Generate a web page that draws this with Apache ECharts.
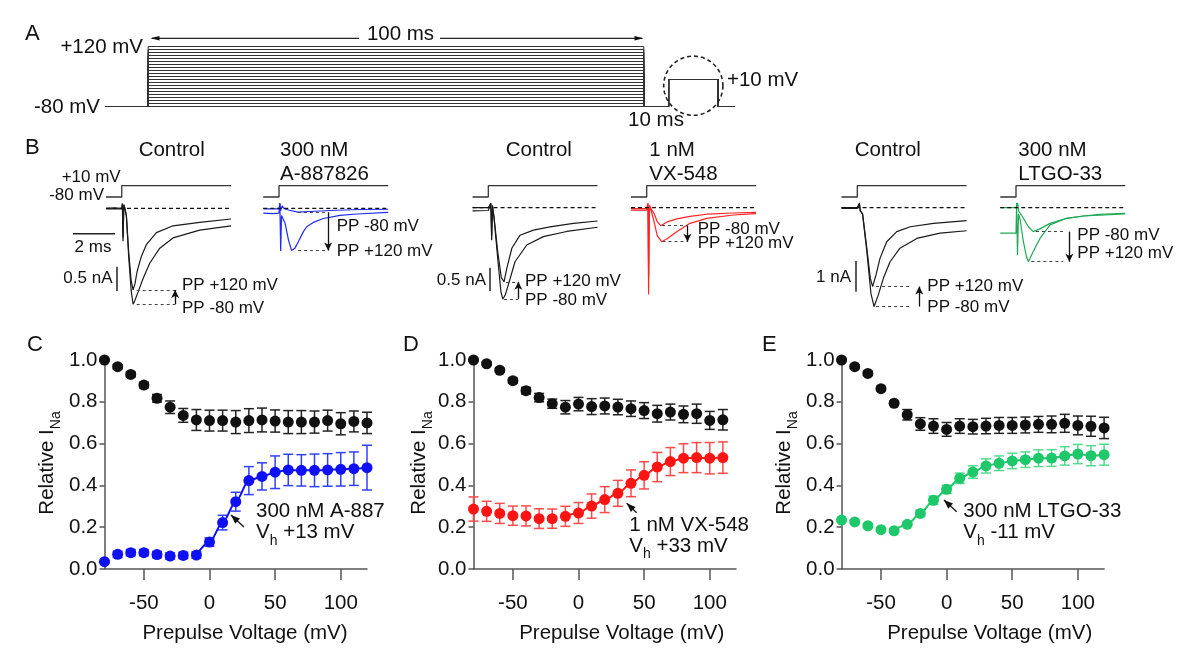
<!DOCTYPE html>
<html><head><meta charset="utf-8">
<script src="https://cdn.jsdelivr.net/npm/echarts@6/dist/echarts.min.js"></script>
<style>html,body{margin:0;padding:0;background:#fff}#c{width:1200px;height:668px}</style>
</head><body><div id="c"></div>
<script>
// ---------------- DATA ----------------
// Panel A: protocol
const prepulseV = [-80,-70,-60,-50,-40,-30,-20,-10,0,10,20,30,40,50,60,70,80,90,100,110,120];
const holdV = -80, testV = 10;
const protoT = [-8.7, 0, 100, 105, 115, 118.4]; // ms: hold, prepulse on, prepulse off, test on, test off, end

// Panel B: current traces [t (ms), I (nA)]
const b1a = [[-0.75,0],[-0.4,0.01],[0,0],[0.03,0.1],[0.06,-0.68],[0.1,0.08],[0.15,0],[0.22,-0.15],[0.33,-0.9],[0.45,-1.5],[0.54,-1.68],[0.63,-1.55],[0.73,-1.3],[0.94,-0.98],[1.18,-0.74],[1.65,-0.5],[2.44,-0.36],[3.71,-0.29],[5.2,-0.22]];
const b1b = [[-0.75,-0.01],[0,-0.01],[0.03,0.09],[0.06,-0.6],[0.1,0.06],[0.15,0],[0.22,-0.15],[0.33,-1.0],[0.45,-1.7],[0.54,-1.975],[0.62,-1.9],[0.78,-1.72],[1.02,-1.44],[1.33,-1.13],[1.81,-0.82],[2.44,-0.61],[3.71,-0.45],[5.2,-0.36]];
const b2a = [[-0.75,-0.01],[0,-0.01],[0.04,0.1],[0.08,-0.05],[0.15,0.05],[0.25,-0.01],[0.5,-0.04],[0.9,-0.08],[1.48,-0.066],[2.43,-0.045],[3.86,-0.025],[5.2,-0.02]];
const b2b = [[-0.75,-0.1],[-0.3,-0.11],[0,-0.1],[0.04,0.11],[0.08,-0.88],[0.12,-0.15],[0.29,-0.31],[0.45,-0.65],[0.6,-0.87],[0.76,-0.82],[0.92,-0.69],[1.16,-0.48],[1.32,-0.38],[1.63,-0.29],[2.11,-0.21],[2.9,-0.144],[3.7,-0.117],[5.2,-0.082]];
const b3a = [[-0.75,0],[0,0],[0.12,0.1],[0.16,-0.7],[0.2,0.05],[0.27,-0.2],[0.45,-0.95],[0.62,-1.5],[0.75,-1.59],[0.88,-1.3],[1.12,-0.87],[1.51,-0.59],[2.15,-0.48],[2.94,-0.41],[4.05,-0.335],[5.2,-0.285]];
const b3b = [[-0.75,-0.07],[0,-0.06],[0.12,0.08],[0.16,-0.6],[0.2,0],[0.27,-0.2],[0.45,-1.1],[0.6,-1.8],[0.69,-1.96],[0.8,-1.88],[0.95,-1.66],[1.27,-1.16],[1.83,-0.8],[2.62,-0.62],[3.73,-0.51],[5.2,-0.42]];
const b4a = [[-0.75,-0.02],[0,-0.02],[0.06,0.1],[0.09,-1.86],[0.13,0.05],[0.2,-0.02],[0.35,-0.12],[0.5,-0.3],[0.67,-0.386],[0.95,-0.31],[1.43,-0.24],[2.06,-0.185],[2.86,-0.14],[4.13,-0.114],[5.2,-0.099]];
const b4b = [[-0.75,-0.05],[0,-0.05],[0.06,0.08],[0.09,-1.5],[0.13,0],[0.2,-0.05],[0.35,-0.3],[0.5,-0.6],[0.71,-0.73],[0.95,-0.67],[1.43,-0.515],[2.06,-0.335],[2.86,-0.23],[4.13,-0.157],[5.2,-0.129]];
const b5a = [[-0.75,0],[0,0],[0.1,0.15],[0.14,-0.1],[0.25,-0.2],[0.45,-1.3],[0.62,-2.3],[0.73,-2.57],[0.89,-2.19],[1.08,-1.65],[1.4,-1.11],[1.88,-0.78],[2.52,-0.62],[3.63,-0.51],[5.2,-0.42]];
const b5b = [[-0.75,-0.02],[0,-0.02],[0.1,0.12],[0.14,-0.1],[0.25,-0.2],[0.45,-1.4],[0.65,-2.8],[0.8,-3.22],[1.0,-2.84],[1.24,-2.3],[1.56,-1.76],[2.03,-1.32],[2.83,-1.0],[3.94,-0.83],[5.2,-0.75]];
const b6a = [[-0.75,0],[0,0],[0.08,0.15],[0.12,-0.1],[0.2,-0.05],[0.35,-0.345],[0.59,-0.62],[0.82,-0.78],[1.14,-0.69],[1.62,-0.51],[2.41,-0.345],[3.21,-0.27],[4.0,-0.215],[5.2,-0.18]];
const b6b = [[-0.75,-0.83],[0,-0.83],[0.03,0.15],[0.07,-1.54],[0.12,-0.2],[0.2,-0.4],[0.35,-1.1],[0.5,-1.6],[0.59,-1.76],[0.67,-1.65],[0.82,-1.43],[1.14,-1.0],[1.62,-0.56],[2.41,-0.345],[3.21,-0.27],[5.2,-0.2]];
const bCommand = [[-0.75,-80],[0,-80],[0,10],[5.2,10]];
// peaks: [PP -80, PP +120] (nA) and their times (ms)
const bPeakI = [[-1.975,-1.68],[-0.08,-0.87],[-1.96,-1.59],[-0.386,-0.73],[-3.22,-2.57],[-0.78,-1.76]];
const bPeakT = [[0.71,0.71],[0.9,0.9],[0.74,0.84],[0.73,0.75],[0.89,0.89],[0.95,0.73]];
const bMarkEnd = [2.54,2.29,1.43,1.94,2.48,2.25];
const bArrowT = [2.54,2.34,1.43,1.94,2.95,2.54];

// Panels C-E
const voltsCE = [-80,-70,-60,-50,-40,-30,-20,-10,0,10,20,30,40,50,60,70,80,90,100,110,120];
const voltsD  = [-80,-70,-60,-50,-40,-30,-20,-10,0,10,20,30,40,50,60,70,80,90,100,110];
const xTicks = [-50,0,50,100];
const ctrlC    = [1.0,0.968,0.931,0.880,0.817,0.774,0.735,0.713,0.710,0.710,0.703,0.710,0.713,0.708,0.703,0.703,0.703,0.710,0.695,0.706,0.699];
const ctrlCErr = [0.005,0.01,0.012,0.013,0.018,0.03,0.033,0.05,0.05,0.05,0.055,0.057,0.057,0.053,0.055,0.055,0.053,0.05,0.053,0.05,0.051];
const a887     = [0.035,0.070,0.078,0.078,0.069,0.062,0.065,0.067,0.129,0.222,0.322,0.423,0.443,0.463,0.474,0.472,0.472,0.474,0.477,0.480,0.485];
const a887Err  = [0.005,0.015,0.015,0.015,0.015,0.015,0.015,0.015,0.02,0.035,0.045,0.067,0.065,0.078,0.075,0.075,0.078,0.078,0.08,0.08,0.107];
const ctrlD    = [1.0,0.982,0.951,0.901,0.853,0.820,0.791,0.774,0.789,0.777,0.780,0.775,0.767,0.758,0.743,0.751,0.740,0.743,0.711,0.714];
const ctrlDErr = [0.005,0.007,0.01,0.012,0.016,0.02,0.022,0.032,0.032,0.038,0.038,0.037,0.037,0.038,0.04,0.038,0.04,0.046,0.043,0.049];
const vx548    = [0.287,0.276,0.266,0.255,0.254,0.241,0.241,0.252,0.268,0.301,0.332,0.362,0.410,0.448,0.488,0.514,0.530,0.533,0.530,0.533];
const vx548Err = [0.058,0.048,0.048,0.046,0.048,0.047,0.046,0.048,0.05,0.058,0.062,0.062,0.064,0.065,0.07,0.067,0.069,0.072,0.075,0.075];
const ctrlE    = [1.0,0.968,0.936,0.863,0.793,0.738,0.694,0.684,0.668,0.684,0.681,0.684,0.687,0.687,0.689,0.692,0.692,0.697,0.687,0.683,0.675];
const ctrlEErr = [0.005,0.008,0.01,0.01,0.01,0.025,0.03,0.035,0.033,0.035,0.035,0.037,0.038,0.038,0.038,0.038,0.04,0.043,0.045,0.048,0.051];
const ltgo     = [0.234,0.225,0.207,0.188,0.183,0.214,0.266,0.329,0.381,0.434,0.464,0.493,0.506,0.517,0.523,0.530,0.531,0.541,0.550,0.542,0.547];
const ltgoErr  = [0.008,0.008,0.008,0.008,0.008,0.01,0.015,0.02,0.02,0.025,0.03,0.034,0.035,0.037,0.037,0.04,0.04,0.044,0.046,0.048,0.05];
const fitStart = [-10, -10, -40]; // first prepulse voltage of fitted curve (C, D, E)

// ---------------- LAYOUT / STYLE ----------------
const FONT = '"Liberation Sans", Arial, Helvetica, sans-serif';
const chart = echarts.init(document.getElementById('c'), null, {renderer: 'canvas'});
const grids = [], xAxes = [], yAxes = [], series = [], graphic = [];
const hidden = {show:false};
function addGrid(g, xa, ya) {
  grids.push(Object.assign({containLabel:false}, g));
  const i = grids.length - 1;
  xAxes.push(Object.assign({gridIndex:i, type:'value', splitLine:hidden}, xa));
  yAxes.push(Object.assign({gridIndex:i, type:'value', splitLine:hidden}, ya));
  return i;
}
function hiddenAxis(min, max) { return {min, max, show:false}; }

// Panel A grid
const gA = addGrid({left:105, top:46.5, width:630, height:60}, hiddenAxis(protoT[0], protoT[5]), hiddenAxis(-80, 120));
prepulseV.forEach(v => {
  series.push({type:'line', xAxisIndex:gA, yAxisIndex:gA, symbol:'none', silent:true, clip:false,
    lineStyle:{color:'#333', width:1},
    data:[[protoT[0],holdV],[protoT[1],holdV],[protoT[1],v],[protoT[2],v],[protoT[2],holdV],[protoT[3],holdV],
          [protoT[3],testV],[protoT[4],testV],[protoT[4],holdV],[protoT[5],holdV]]});
});

// Panel B grids
const bLeft = [106, 263.25, 472.55, 630.95, 841.55, 1000.25];
const bScale = [48.6, 48.6, 46.6, 46.6, 30.7, 30.7];   // px per nA
const bBase  = [208.3, 208.3, 207.7, 207.7, 207.7, 207.7];
const bTop = 180, bH = 130;
const bTraces = [[b1b,b1a],[b2a,b2b],[b3b,b3a],[b4a,b4b],[b5b,b5a],[b6a,b6b]];
const bColor = ['#1a1a1a','#1f2bf2','#1a1a1a','#ff2424','#1a1a1a','#1faa55'];
for (let p = 0; p < 6; p++) {
  const ymax = (bBase[p]-bTop)/bScale[p], ymin = -(bTop+bH-bBase[p])/bScale[p];
  const g = addGrid({left:bLeft[p], top:bTop, width:125, height:bH}, hiddenAxis(-0.75, 5.2), hiddenAxis(ymin, ymax));
  bTraces[p].forEach(tr => series.push({type:'line', xAxisIndex:g, yAxisIndex:g, symbol:'none', silent:true,
    lineStyle:{color:bColor[p], width:1.2}, data:tr}));
  const pk = bPeakI[p], pt = bPeakT[p];
  series.push({type:'line', xAxisIndex:g, yAxisIndex:g, symbol:'none', silent:true,
    lineStyle:{color:'#111', width:1.2, type:[4,3]}, data:[[-0.75,0],[5.2,0]],
    markLine:{silent:true, symbol:['none','none'], label:{show:false}, animation:false,
      lineStyle:{color:'#444', width:1, type:[3,3]},
      data:[[{coord:[pt[0],pk[0]]},{coord:[bMarkEnd[p],pk[0]]}],[{coord:[pt[1],pk[1]]},{coord:[bMarkEnd[p],pk[1]]}]]}});
  series.push({type:'line', xAxisIndex:g, yAxisIndex:g, symbol:'none', silent:true, data:[],
    markLine:{silent:true, symbol:['none','arrow'], symbolSize:[6,8], label:{show:false}, animation:false,
      lineStyle:{color:'#111', width:1.3, type:'solid'},
      data:[[{coord:[bArrowT[p],pk[0]]},{coord:[bArrowT[p],pk[1]]}]]}});
}
for (let p = 0; p < 6; p++) {
  const g = addGrid({left:bLeft[p], top:185.7, width:125, height:11.3}, hiddenAxis(-0.75, 5.2), hiddenAxis(-80, 10));
  series.push({type:'line', xAxisIndex:g, yAxisIndex:g, symbol:'none', silent:true, clip:false,
    lineStyle:{color:'#333', width:1.3}, data:bCommand});
}

// Panels C, D, E
const dot = [
  {left:104.5, x:voltsCE, ctrl:ctrlC, ctrlE:ctrlCErr, drug:a887,  drugE:a887Err,  col:'#1010f5', ecol:'#3040ff'},
  {left:473.5, x:voltsD,  ctrl:ctrlD, ctrlE:ctrlDErr, drug:vx548, drugE:vx548Err, col:'#ff1414', ecol:'#ff4a4a'},
  {left:841.6, x:voltsCE, ctrl:ctrlE, ctrlE:ctrlEErr, drug:ltgo,  drugE:ltgoErr,  col:'#1ec86a', ecol:'#50dc8c'}
];
function errRender(color) {
  return function(params, api) {
    const x = api.value(0), lo = api.value(1), hi = api.value(2);
    const p1 = api.coord([x, lo]), p2 = api.coord([x, hi]);
    const w = 5, st = {stroke:color, lineWidth:1.5};
    return {type:'group', children:[
      {type:'line', shape:{x1:p1[0],y1:p1[1],x2:p2[0],y2:p2[1]}, style:st},
      {type:'line', shape:{x1:p1[0]-w,y1:p1[1],x2:p1[0]+w,y2:p1[1]}, style:st},
      {type:'line', shape:{x1:p2[0]-w,y1:p2[1],x2:p2[0]+w,y2:p2[1]}, style:st}]};
  };
}
dot.forEach((d, k) => {
  const g = addGrid({left:d.left, top:360, width:262.5, height:209},
    {min:-80, max:120,
     axisLine:{show:true, onZero:false, lineStyle:{color:'#555', width:1.5}},
     axisTick:{show:true, length:11, customValues:xTicks, lineStyle:{color:'#555', width:1.5}},
     axisLabel:{show:true, customValues:xTicks, margin:24, fontSize:20.5, fontFamily:FONT, color:'#111'}},
    {min:0, max:1, interval:0.2,
     axisLine:{show:true, onZero:false, lineStyle:{color:'#555', width:1.5}},
     axisTick:{show:true, length:5, lineStyle:{color:'#555', width:1.5}},
     axisLabel:{show:true, margin:7, fontSize:20.5, fontFamily:FONT, color:'#111', formatter:v => v.toFixed(1)}});
  const mk = (ys, es) => d.x.map((v, i) => [v, ys[i]-es[i], ys[i]+es[i]]);
  series.push({type:'custom', xAxisIndex:g, yAxisIndex:g, silent:true, renderItem:errRender('#222'), encode:{x:0, y:[1,2]}, data:mk(d.ctrl, d.ctrlE), z:2});
  series.push({type:'custom', xAxisIndex:g, yAxisIndex:g, silent:true, renderItem:errRender(d.ecol), encode:{x:0, y:[1,2]}, data:mk(d.drug, d.drugE), z:2});
  const fit = d.x.map((v, i) => [v, d.drug[i]]).filter(p => p[0] >= fitStart[k]);
  series.push({type:'line', xAxisIndex:g, yAxisIndex:g, silent:true, symbol:'none', smooth:0.3, smoothMonotone:'x',
    lineStyle:{color:d.col, width:2}, data:fit, z:3});
  series.push({type:'scatter', xAxisIndex:g, yAxisIndex:g, silent:true, symbolSize:11, itemStyle:{color:'#111', opacity:1},
    data:d.x.map((v, i) => [v, d.ctrl[i]]), z:4});
  series.push({type:'scatter', xAxisIndex:g, yAxisIndex:g, silent:true, symbolSize:11, itemStyle:{color:d.col, opacity:1},
    data:d.x.map((v, i) => [v, d.drug[i]]), z:4});
});

// ---------------- TEXT & ANNOTATIONS ----------------
function T(x, y, s, size, align) {
  graphic.push({type:'text', x, y, silent:true, z:10, style:{text:s, font:size+'px '+FONT, fill:'#111',
    align:align||'left', verticalAlign:'middle', textAlign:align||'left', textVerticalAlign:'middle'}});
}
function RT(x, y, s, size, subSize, align, rot) {
  graphic.push({type:'text', x, y, rotation:rot||0, silent:true, z:10, style:{text:s, fill:'#111',
    align:align||'left', verticalAlign:'middle', textAlign:align||'left', textVerticalAlign:'middle',
    font:size+'px '+FONT,
    rich:{m:{font:size+'px '+FONT, fill:'#111', verticalAlign:'bottom', padding:[0,0,5,0]},
          s:{font:subSize+'px '+FONT, fill:'#111', verticalAlign:'bottom'}}}});
}
function L(x1, y1, x2, y2, w, dash) {
  graphic.push({type:'line', silent:true, z:10, shape:{x1,y1,x2,y2}, style:{stroke:'#222', lineWidth:w||1.3, lineDash:dash||null}});
}
function head(x1, y1, x2, y2, len, hw) {
  const dx = x2-x1, dy = y2-y1, n = Math.hypot(dx, dy), ux = dx/n, uy = dy/n;
  const bx = x2-ux*len, by = y2-uy*len;
  graphic.push({type:'polygon', silent:true, z:10, shape:{points:[[x2,y2],[bx-uy*hw,by+ux*hw],[bx+uy*hw,by-ux*hw]]}, style:{fill:'#111'}});
}
function arrow(x1, y1, x2, y2) { L(x1, y1, x2, y2, 1.5); head(x1, y1, x2, y2, 9, 3.5); }

// A
T(25, 34, 'A', 22);
T(143, 47, '+120 mV', 20.5, 'right');
T(100, 107, '-80 mV', 20.5, 'right');
T(400.5, 34.5, '100 ms', 20.5, 'center');
L(152, 38.3, 359, 38.3, 1.2); L(440, 38.3, 642, 38.3, 1.2);
head(160, 38.3, 150.5, 38.3, 9, 2.2); head(634, 38.3, 643.5, 38.3, 9, 2.2);
T(656, 120.5, '10 ms', 20.5, 'center');
T(727, 80, '+10 mV', 20.5, 'left');
graphic.push({type:'circle', silent:true, z:10, shape:{cx:693.3, cy:85.7, r:29.6}, style:{fill:null, stroke:'#222', lineWidth:1.6, lineDash:[4,3]}});

// B
T(25, 147.5, 'B', 22);
T(171.7, 150.5, 'Control', 20.5, 'center');
T(538.8, 150.5, 'Control', 20.5, 'center');
T(887.8, 150.5, 'Control', 20.5, 'center');
T(280, 150.5, '300 nM', 20.5); T(280, 174.5, 'A-887826', 20.5);
T(649.3, 150.5, '1 nM', 20.5); T(649.3, 174.5, 'VX-548', 20.5);
T(1018.3, 150.5, '300 nM', 20.5); T(1018.3, 174.5, 'LTGO-33', 20.5);
T(120.7, 177.7, '+10 mV', 17, 'right'); T(104, 195, '-80 mV', 17, 'right');
L(73, 233.7, 115, 233.7, 1.5); T(93, 247, '2 ms', 17, 'center');
L(117, 266.7, 117, 291, 1.5); T(112.5, 278.5, '0.5 nA', 17, 'right');
L(490, 267.7, 490, 291, 1.5); T(486, 280, '0.5 nA', 17, 'right');
L(856, 261, 856, 291.7, 1.5); T(851, 277, '1 nA', 17, 'right');
T(182, 285.7, 'PP +120 mV', 17); T(182, 308, 'PP -80 mV', 17);
T(336.7, 226.7, 'PP -80 mV', 17); T(336.7, 251, 'PP +120 mV', 17);
T(525, 281.7, 'PP +120 mV', 17); T(525, 300, 'PP -80 mV', 17);
T(697.7, 229.3, 'PP -80 mV', 17); T(697.7, 243.3, 'PP +120 mV', 17);
T(927.3, 286.7, 'PP +120 mV', 17); T(927.3, 307.7, 'PP -80 mV', 17);
T(1077.3, 235, 'PP -80 mV', 17); T(1077.3, 253.3, 'PP +120 mV', 17);

// C, D, E
T(27, 345, 'C', 22); T(403, 345, 'D', 22); T(762, 345, 'E', 22);
[[50,463],[421.7,463],[786.7,463]].forEach(p => RT(p[0], p[1], '{m|Relative I}{s|Na}', 20.5, 14, 'center', Math.PI/2));
T(245, 633, 'Prepulse Voltage (mV)', 20.5, 'center');
T(621.7, 633, 'Prepulse Voltage (mV)', 20.5, 'center');
T(989.7, 633, 'Prepulse Voltage (mV)', 20.5, 'center');
T(256, 511.7, '300 nM A-887', 20.5); RT(256, 535, '{m|V}{s|h}{m| +13 mV}', 20.5, 14, 'left');
T(629.3, 525, '1 nM VX-548', 20.5); RT(629.3, 548.5, '{m|V}{s|h}{m| +33 mV}', 20.5, 14, 'left');
T(963.3, 511.7, '300 nM LTGO-33', 20.5); RT(963.3, 535, '{m|V}{s|h}{m| -11 mV}', 20.5, 14, 'left');
arrow(244, 527, 231, 515);
arrow(636.7, 512.7, 626.7, 503.3);
arrow(956.7, 511.7, 944, 500);

chart.setOption({animation:false, backgroundColor:'#fff', grid:grids, xAxis:xAxes, yAxis:yAxes, series, graphic});
</script></body></html>
